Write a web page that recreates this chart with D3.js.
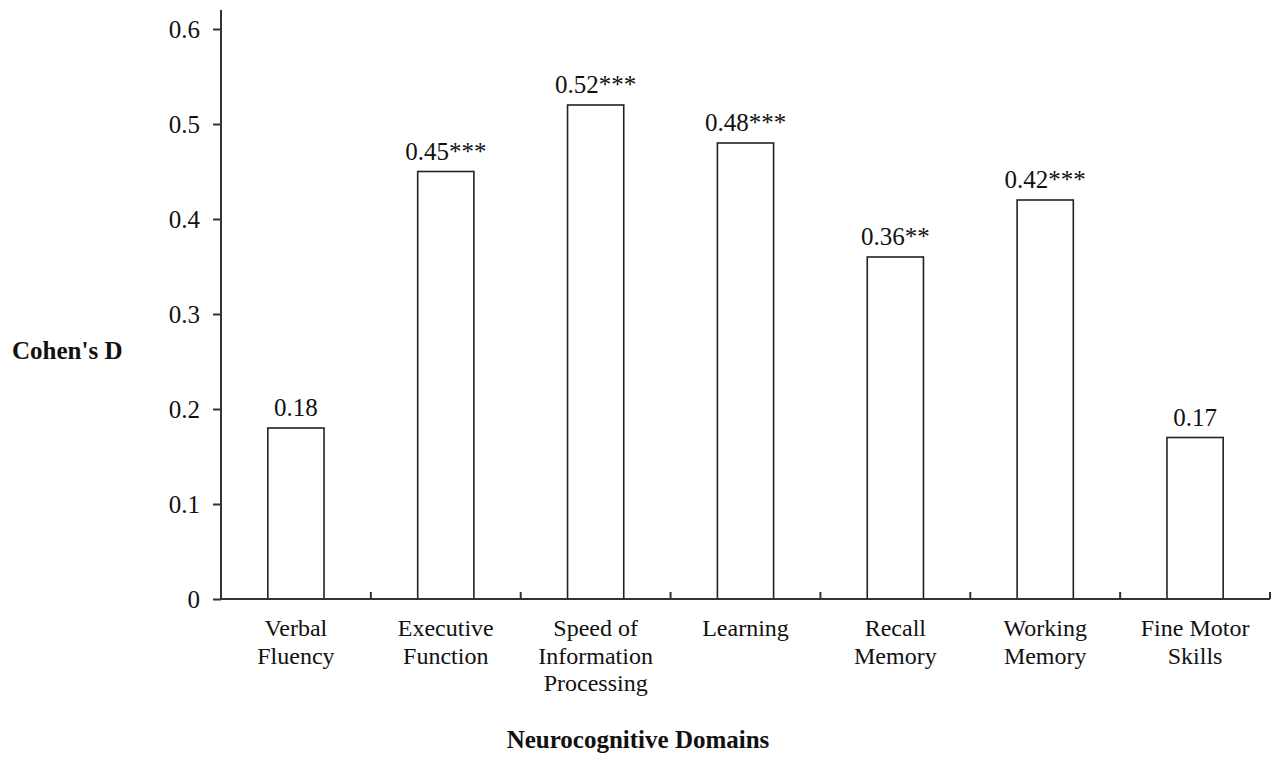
<!DOCTYPE html>
<html>
<head>
<meta charset="utf-8">
<script src="https://cdn.jsdelivr.net/npm/d3@7"></script>
<style>
  html, body { margin: 0; padding: 0; background: #fff; }
  svg { display: block; }
  text { font-family: "Liberation Serif", "Times New Roman", serif; fill: #111; }
</style>
</head>
<body>
<svg id="chart" width="1278" height="760"></svg>
<script>
// Effect sizes per neurocognitive domain
const categories = [
  ["Verbal", "Fluency"],
  ["Executive", "Function"],
  ["Speed of", "Information", "Processing"],
  ["Learning"],
  ["Recall", "Memory"],
  ["Working", "Memory"],
  ["Fine Motor", "Skills"]
];
const values = [0.18, 0.45, 0.52, 0.48, 0.36, 0.42, 0.17];
const significance = ["", "***", "***", "***", "**", "***", ""];
const yTicks = [0, 0.1, 0.2, 0.3, 0.4, 0.5, 0.6];

const svg = d3.select("#chart");
const margin = { left: 221, right: 8, top: 10, bottom: 161 };
const W = 1278, H = 760;
const x0 = margin.left, x1 = W - margin.right;
const yBase = H - margin.bottom;
const fs = 25;

const keys = categories.map((c, i) => String(i));
const x = d3.scaleBand().domain(keys).range([x0, x1]).paddingInner(0.625).paddingOuter(0.3125);
const xBand = d3.scaleBand().domain(keys).range([x0, x1]).padding(0);
const y = d3.scaleLinear().domain([0, 0.6]).range([yBase, yBase - 570]);

const ink = "#333";

// Bars
svg.append("g").selectAll("rect").data(values).join("rect")
  .attr("x", (d, i) => x(String(i)))
  .attr("y", d => y(d))
  .attr("width", x.bandwidth())
  .attr("height", d => y(0) - y(d))
  .attr("fill", "#fff")
  .attr("stroke", "#222")
  .attr("stroke-width", 1.6);

// Value labels
svg.append("g").selectAll("text").data(values).join("text")
  .attr("x", (d, i) => x(String(i)) + x.bandwidth() / 2)
  .attr("y", d => y(d) - 12)
  .attr("text-anchor", "middle")
  .attr("font-size", fs)
  .text((d, i) => d.toFixed(2) + significance[i]);

// Y axis
const yAxis = d3.axisLeft(y).tickValues(yTicks).tickSize(8).tickPadding(13)
  .tickFormat(d => d === 0 ? "0" : d3.format(".1f")(d));
const gy = svg.append("g").attr("transform", `translate(${x0},0)`).call(yAxis);
gy.select(".domain").attr("d", `M0,${yBase}V${margin.top}`).attr("stroke", ink).attr("stroke-width", 2);
gy.selectAll(".tick line").attr("stroke", ink).attr("stroke-width", 2);
gy.selectAll(".tick text").attr("font-size", fs).attr("fill", "#111").attr("dy", "0.34em");

// X axis: baseline with small upward ticks at category boundaries
const gx = svg.append("g");
gx.append("line").attr("x1", x0).attr("x2", x1).attr("y1", yBase).attr("y2", yBase)
  .attr("stroke", ink).attr("stroke-width", 2);
gx.selectAll("line.tk").data(keys).join("line").attr("class", "tk")
  .attr("x1", k => xBand(k) + xBand.bandwidth())
  .attr("x2", k => xBand(k) + xBand.bandwidth())
  .attr("y1", yBase).attr("y2", yBase - 7)
  .attr("stroke", ink).attr("stroke-width", 2);

// Category labels
const lab = svg.append("g").selectAll("text").data(categories).join("text")
  .attr("x", (d, i) => xBand(String(i)) + xBand.bandwidth() / 2)
  .attr("y", yBase + 37)
  .attr("text-anchor", "middle")
  .attr("font-size", fs - 1);
lab.selectAll("tspan").data(d => d).join("tspan")
  .attr("x", function () { return this.parentNode.getAttribute("x"); })
  .attr("dy", (d, j) => j === 0 ? 0 : 27.5)
  .text(d => d);

// Axis titles
svg.append("text")
  .attr("x", 12).attr("y", 359)
  .attr("font-size", fs).attr("font-weight", "bold")
  .text("Cohen's D");
svg.append("text")
  .attr("x", 638).attr("y", 748)
  .attr("text-anchor", "middle")
  .attr("font-size", fs).attr("font-weight", "bold")
  .text("Neurocognitive Domains");
</script>
</body>
</html>
